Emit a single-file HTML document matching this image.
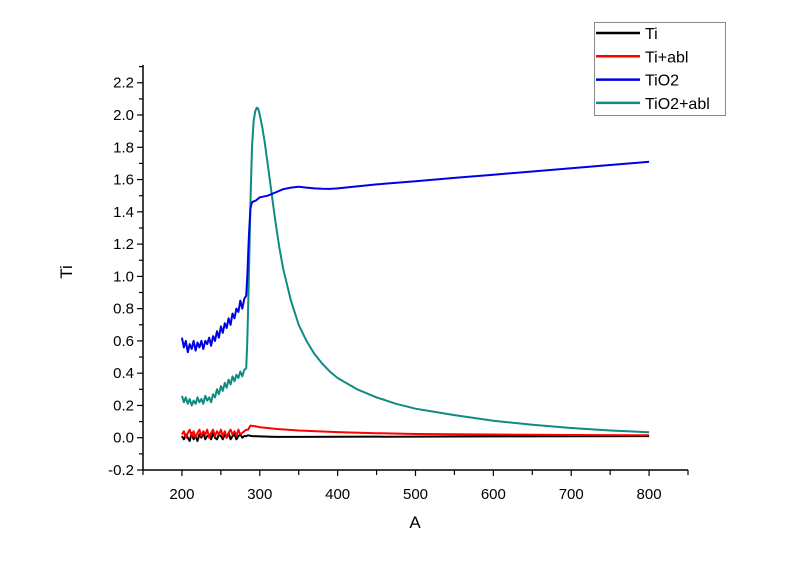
<!DOCTYPE html>
<html><head><meta charset="utf-8"><style>
html,body{margin:0;padding:0;background:#fff;}
svg{display:block;font-family:"Liberation Sans",Arial,sans-serif;}
</style></head><body>
<svg id="chart" width="800" height="564" viewBox="0 0 800 564" xmlns="http://www.w3.org/2000/svg">
<g id="axes"></g>
<g id="series"></g>
<g id="legend"></g>
</svg>
<script>
const xTicks=[200,300,400,500,600,700,800];
const yTicks=[-0.2,0.0,0.2,0.4,0.6,0.8,1.0,1.2,1.4,1.6,1.8,2.0,2.2];
const seriesNames=["Ti","Ti+abl","TiO2","TiO2+abl"];
const seriesColors=["#000000","#ff0000","#0000e6","#108a82"];
const noiseX=[200,202.5,205,207.5,210,212.5,215,217.5,220,222.5,225,227.5,230,232.5,235,237.5,240,242.5,245,247.5,250,252.5,255,257.5,260,262.5,265,267.5,270,272.5,275,277.5,280,282.5];
const tiNoise=[0.01,-0.01,0.02,0.0,-0.02,0.03,-0.01,0.01,-0.02,0.02,0.0,0.03,-0.01,0.01,0.02,-0.01,0.03,0.0,-0.01,0.02,0.01,-0.01,0.02,0.0,0.03,-0.01,0.01,0.02,-0.01,0.01,0.02,0.0,0.01,0.01];
const tiablNoise=[0.02,0.04,0.0,0.03,0.05,0.01,0.04,0.0,0.03,0.05,0.01,0.04,0.02,0.05,0.0,0.03,0.05,0.01,0.04,0.02,0.05,0.01,0.04,0.0,0.03,0.05,0.02,0.04,0.01,0.05,0.02,0.03,0.04,0.05];
const tio2Noise=[0.62,0.56,0.6,0.53,0.58,0.55,0.6,0.54,0.59,0.56,0.6,0.55,0.6,0.58,0.62,0.57,0.63,0.6,0.66,0.62,0.69,0.65,0.71,0.68,0.74,0.7,0.77,0.74,0.8,0.78,0.85,0.8,0.86,0.88];
const tio2ablNoise=[0.26,0.22,0.25,0.21,0.24,0.2,0.23,0.21,0.25,0.22,0.24,0.21,0.26,0.23,0.25,0.22,0.27,0.25,0.3,0.27,0.32,0.29,0.34,0.31,0.36,0.33,0.38,0.35,0.39,0.37,0.41,0.38,0.42,0.43];
const tiTailX=[285,290,300,320,350,400,500,600,700,800];
const tiTailY=[0.015,0.01,0.008,0.005,0.005,0.006,0.007,0.008,0.009,0.01];
const tiablTailX=[285,288,295,300,310,320,350,400,450,500,600,700,800];
const tiablTailY=[0.05,0.075,0.07,0.065,0.06,0.055,0.045,0.035,0.028,0.023,0.02,0.017,0.015];
const tio2TailX=[284,286,288,290,295,300,310,320,330,340,350,360,370,380,390,400,450,500,550,600,650,700,750,800];
const tio2TailY=[1.0,1.25,1.42,1.46,1.47,1.49,1.5,1.52,1.54,1.55,1.555,1.55,1.545,1.543,1.542,1.545,1.57,1.59,1.61,1.63,1.65,1.67,1.69,1.71];
const tio2ablTailX=[284,286,288,290,292,294,296,298,300,303,306,310,315,320,325,330,340,350,360,370,380,390,400,425,450,475,500,550,600,650,700,750,800];
const tio2ablTailY=[0.6,1.0,1.45,1.8,1.96,2.02,2.045,2.04,2.0,1.93,1.84,1.7,1.52,1.34,1.18,1.05,0.85,0.7,0.6,0.52,0.46,0.41,0.37,0.3,0.25,0.21,0.18,0.14,0.105,0.08,0.06,0.045,0.034];

const NS="http://www.w3.org/2000/svg";
const X0=150,X1=850,PX0=143,PX1=688,Y0=-0.2,Y1=2.31,PY0=470,PY1=65;
function sx(v){return PX0+(v-X0)/(X1-X0)*(PX1-PX0);}
function sy(v){return PY0-(v-Y0)/(Y1-Y0)*(PY0-PY1);}
function mk(tag,attrs,parent){const e=document.createElementNS(NS,tag);for(const k in attrs)e.setAttribute(k,attrs[k]);parent.appendChild(e);return e;}
const axes=document.getElementById('axes');
let yAxis=mk('line',{x1:PX0,y1:PY0,x2:PX0,y2:PY1,stroke:'#000','stroke-width':1.5},axes);


let xAxis=mk('line',{x1:PX0,y1:PY0,x2:PX1,y2:PY0,stroke:'#000','stroke-width':1.5},axes);


for(let v=150;v<=850;v+=50){const x=sx(v);mk('line',{x1:x,y1:PY0,x2:x,y2:PY0+(v%100===0?6:5),stroke:'#000','stroke-width':1.2},axes);}
xTicks.forEach(v=>{const t=mk('text',{x:sx(v),y:PY0+29,'text-anchor':'middle','font-size':15,fill:'#000'},axes);t.textContent=v;

});
for(let i=0;i<=25;i++){const v=-0.2+i*0.1;const y=sy(v);mk('line',{x1:PX0-(i%2===0?6:4),y1:y,x2:PX0,y2:y,stroke:'#000','stroke-width':1.2},axes);}
yTicks.forEach(v=>{const t=mk('text',{x:PX0-9,y:sy(v)+5,'text-anchor':'end','font-size':15,fill:'#000'},axes);t.textContent=v.toFixed(1);

});
let xt=mk('text',{x:415,y:528,'text-anchor':'middle','font-size':17,fill:'#000'},axes);xt.textContent='A';


let yt=mk('text',{x:72,y:272,'text-anchor':'middle','font-size':17,fill:'#000',transform:'rotate(-90 72 272)'},axes);yt.textContent='Ti';



const sers=[[noiseX.concat(tiTailX),tiNoise.concat(tiTailY)],[noiseX.concat(tiablTailX),tiablNoise.concat(tiablTailY)],[noiseX.concat(tio2TailX),tio2Noise.concat(tio2TailY)],[noiseX.concat(tio2ablTailX),tio2ablNoise.concat(tio2ablTailY)]];
const sg=document.getElementById('series');
const order=[3,2,0,1];
order.forEach(i=>{const [xs,ys]=sers[i];const d=xs.map((x,j)=>(j?'L':'M')+sx(x).toFixed(1)+' '+sy(ys[j]).toFixed(1)).join(' ');
const p=mk('path',{d:d,fill:'none',stroke:seriesColors[i],'stroke-width':2,'stroke-linejoin':'round'},sg);

});

const lg=document.getElementById('legend');
mk('rect',{x:594.5,y:22.5,width:131,height:93,fill:'#fff',stroke:'#888','stroke-width':1},lg);
seriesNames.forEach((n,i)=>{const y=33+i*23.3;
mk('line',{x1:596,y1:y,x2:640,y2:y,stroke:seriesColors[i],'stroke-width':2.5},lg);
const t=mk('text',{x:645,y:y+6,'font-size':16,fill:'#000'},lg);t.textContent=n;

});
</script>
</body></html>
